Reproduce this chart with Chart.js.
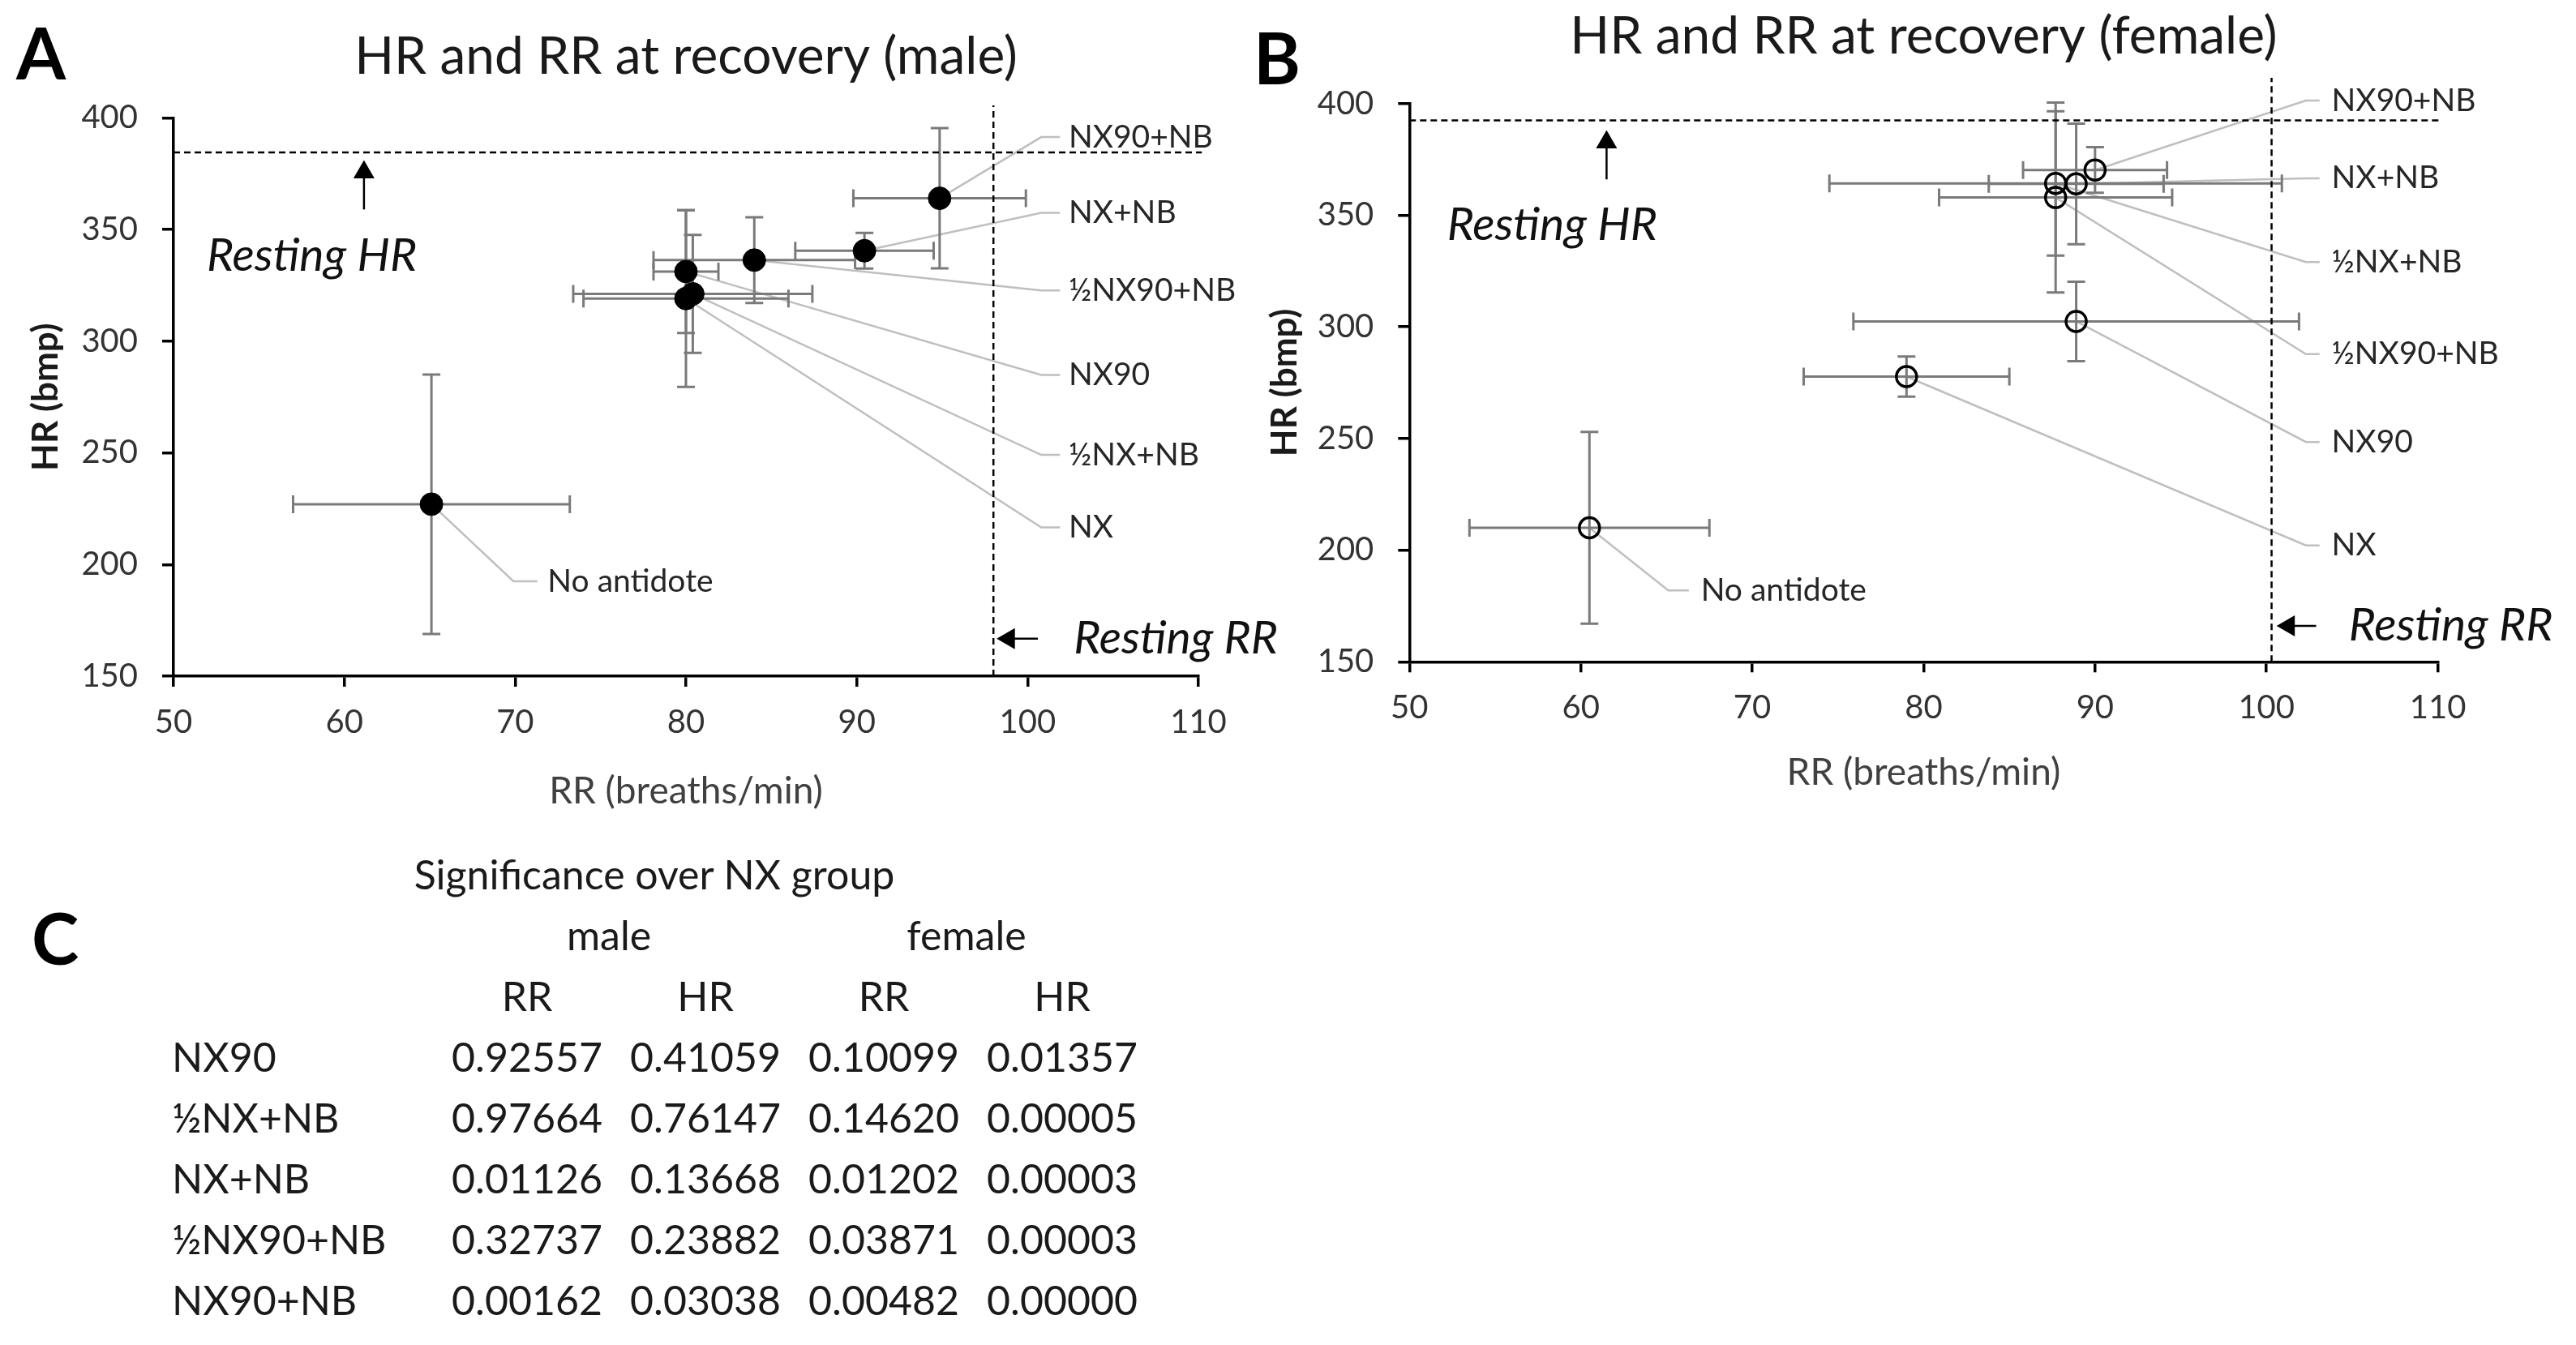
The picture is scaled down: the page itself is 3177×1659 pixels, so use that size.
<!DOCTYPE html>
<html>
<head>
<meta charset="utf-8">
<script src="https://cdn.jsdelivr.net/npm/chart.js@4.4.1/dist/chart.umd.min.js"></script>
<style>
body{margin:0;background:#fff;font-family:Lato,sans-serif;}
#wrap{position:relative;width:3177px;height:1659px;overflow:hidden;background:#fff}
canvas{position:absolute;left:0;top:0}
.letter{position:absolute;font-weight:bold;font-size:88px;line-height:1;color:#000}
table{position:absolute;left:212px;top:1040px;border-collapse:collapse;table-layout:fixed;font-size:50px;color:#1a1a1a}
td{height:75px;padding:0;white-space:nowrap;text-align:center;vertical-align:middle}
td.lab{text-align:left}
</style>
</head>
<body>
<div id="wrap">
  <canvas id="chartA" width="3177" height="1040"></canvas>
  <canvas id="chartB" width="3177" height="1040"></canvas>
  <div class="letter" style="left:20px;top:20px">A</div>
  <div class="letter" style="left:1546px;top:26px">B</div>
  <div class="letter" style="left:39px;top:1112px">C</div>
  <table id="sigTable"></table>
</div>
<script>
// groups, same order in both panels
const groups = ['No antidote', 'NX', 'NX90', '½NX+NB', 'NX+NB', '½NX90+NB', 'NX90+NB'];

// male means and SD
const maleRR = [65.1, 80.0, 80.0, 80.4, 90.45, 84.0, 94.85];
const maleHR = [227, 319.1, 331.2, 321.2, 340.5, 336.3, 364];
const maleRRsd = [8.1, 6.0, 1.9, 7.0, 4.05, 5.9, 5.05];
const maleHRsd = [58.1, 39.6, 27.5, 26.4, 8.0, 19.2, 31.4];

// female means and SD
const femRR = [60.5, 79.0, 88.9, 87.7, 88.9, 87.7, 90.0];
const femHR = [210, 277.7, 302.4, 364.2, 364, 357.9, 370.2];
const femRRsd = [7.0, 6.0, 13.0, 13.2, 5.1, 6.8, 4.2];
const femHRsd = [42.9, 9.0, 17.8, 32.3, 27.0, 42.5, 10.2];

// resting reference values
const maleRestHR = 384.5, maleRestRR = 98.0;
const femRestHR = 392.4, femRestRR = 100.3;

// significance table
const tableRows = ['NX90', '½NX+NB', 'NX+NB', '½NX90+NB', 'NX90+NB'];
const maleRRp = ['0.92557', '0.97664', '0.01126', '0.32737', '0.00162'];
const maleHRp = ['0.41059', '0.76147', '0.13668', '0.23882', '0.03038'];
const femRRp = ['0.10099', '0.14620', '0.01202', '0.03871', '0.00482'];
const femHRp = ['0.01357', '0.00005', '0.00003', '0.00003', '0.00000'];

// where the callout labels sit (axis units)
const maleLabelHR = [192.5, 216.6, 284.9, 249.1, 357.5, 322.7, 391.4];
const maleElbowRR = [69.9, 100.8, 100.8, 100.8, 100.8, 100.8, 100.8];
const maleLineEndRR = [71.3, 101.9, 101.9, 101.9, 101.9, 101.9, 101.9];
const maleTextRR = [71.9, 102.4, 102.4, 102.4, 102.4, 102.4, 102.4];
const femLabelHR = [182, 202.1, 248.4, 329.0, 366.5, 287.8, 401.3];
const femElbowRR = [65.1, 102.3, 102.3, 102.3, 102.3, 102.3, 102.3];
const femLineEndRR = [66.3, 103.1, 103.1, 103.1, 103.1, 103.1, 103.1];
const femTextRR = [67.0, 103.8, 103.8, 103.8, 103.8, 103.8, 103.8];

Chart.defaults.font.family = 'Lato';
Chart.defaults.color = '#333';

function overlay(o){
  return {
    id: 'overlay',
    beforeDatasetsDraw(chart){
      const ctx = chart.ctx, x = chart.scales.x, y = chart.scales.y
      ctx.save()
      // leader lines
      ctx.strokeStyle = '#bfbfbf'
      ctx.lineWidth = 2.5
      o.rr.forEach((v, i)=>{
        ctx.beginPath()
        ctx.moveTo(x.getPixelForValue(v), y.getPixelForValue(o.hr[i]))
        ctx.lineTo(x.getPixelForValue(o.elbow[i]), y.getPixelForValue(o.labelHR[i]))
        ctx.lineTo(x.getPixelForValue(o.lineEnd[i]), y.getPixelForValue(o.labelHR[i]))
        ctx.stroke()
      })
      // error bars
      ctx.strokeStyle = '#7a7a7a'
      ctx.lineWidth = 3
      const cap = 11
      o.rr.forEach((v, i)=>{
        const px = x.getPixelForValue(v), py = y.getPixelForValue(o.hr[i])
        const x1 = x.getPixelForValue(v - o.rrSd[i]), x2 = x.getPixelForValue(v + o.rrSd[i])
        const y1 = y.getPixelForValue(o.hr[i] - o.hrSd[i]), y2 = y.getPixelForValue(o.hr[i] + o.hrSd[i])
        ctx.beginPath()
        ctx.moveTo(x1, py); ctx.lineTo(x2, py)
        ctx.moveTo(x1, py - cap); ctx.lineTo(x1, py + cap)
        ctx.moveTo(x2, py - cap); ctx.lineTo(x2, py + cap)
        ctx.moveTo(px, y1); ctx.lineTo(px, y2)
        ctx.moveTo(px - cap, y1); ctx.lineTo(px + cap, y1)
        ctx.moveTo(px - cap, y2); ctx.lineTo(px + cap, y2)
        ctx.stroke()
      })
      ctx.restore()
    },
    afterDatasetsDraw(chart){
      const ctx = chart.ctx, x = chart.scales.x, y = chart.scales.y
      ctx.save()
      ctx.textBaseline = 'middle'
      ctx.textAlign = 'left'
      ctx.fillStyle = '#262626'
      ctx.font = '39px Lato'
      groups.forEach((g, i)=>{
        ctx.fillText(g, x.getPixelForValue(o.textRR[i]), y.getPixelForValue(o.labelHR[i]))
      })
      ctx.fillStyle = '#111'
      ctx.font = 'italic 57px Lato'
      ctx.fillText('Resting HR', x.getPixelForValue(o.hrText[0]), y.getPixelForValue(o.hrText[1]))
      ctx.fillText('Resting RR', x.getPixelForValue(o.rrText[0]), y.getPixelForValue(o.rrText[1]))
      ctx.restore()
    }
  }
}

function panel(id, o){
  const dashed = {type: 'line', borderColor: '#000', borderWidth: 2.5, borderDash: [8, 5], pointRadius: 0, clip: false}
  const arrow = {type: 'line', borderColor: '#000', backgroundColor: '#000', borderWidth: 2.5,
                 pointRadius: [0, 15], pointStyle: 'triangle', pointBorderWidth: 0, clip: false}
  return new Chart(document.getElementById(id), {
    type: 'scatter',
    data: {
      datasets: [
        Object.assign({label: 'Resting HR', data: [{x: 50, y: o.restHR}, {x: o.hrLineEnd, y: o.restHR}]}, dashed),
        Object.assign({label: 'Resting RR', data: [{x: o.restRR, y: 150}, {x: o.restRR, y: o.rrLineTop}]}, dashed),
        Object.assign({label: 'arrow HR', data: o.arrowHR, pointRotation: 0}, arrow),
        Object.assign({label: 'arrow RR', data: o.arrowRR, pointRotation: -90}, arrow),
        {
          label: o.name,
          data: o.rr.map((v, i)=>({x: v, y: o.hr[i]})),
          pointRadius: o.radius,
          pointBackgroundColor: o.fill,
          pointBorderColor: '#000',
          pointBorderWidth: o.bw
        }
      ]
    },
    options: {
      responsive: false,
      animation: false,
      events: [],
      layout: {padding: {left: o.padLeft, right: o.padRight, top: 0, bottom: 0}},
      plugins: {
        legend: {display: false},
        tooltip: {enabled: false},
        title: {
          display: true, text: o.title, fullSize: false, color: '#1a1a1a',
          font: {size: 64, weight: 'normal'}, padding: {top: o.titleTop, bottom: o.titleBottom}
        }
      },
      scales: {
        x: {
          type: 'linear', min: 50, max: 110,
          ticks: {stepSize: 10, font: {size: 40}, color: '#333', padding: 20},
          grid: {drawOnChartArea: false, drawTicks: true, tickLength: 13, color: '#000', lineWidth: 3.5},
          border: {color: '#000', width: 3.5},
          title: {display: true, text: 'RR (breaths/min)', font: {size: 46}, color: '#404040', padding: {bottom: o.xTitlePad}},
          afterFit: s=>{ s.height = o.xHeight }
        },
        y: {
          type: 'linear', min: 150, max: 400,
          ticks: {stepSize: 50, font: {size: 40}, color: '#333', padding: 30},
          grid: {drawOnChartArea: false, drawTicks: true, tickLength: 14, color: '#000', lineWidth: 3.5},
          border: {color: '#000', width: 3.5},
          title: {display: true, text: 'HR (bmp)', font: {size: 44, weight: 'bold'}, color: '#1a1a1a', padding: {top: o.yTitlePad}},
          afterFit: s=>{ s.width = 204 }
        }
      }
    },
    plugins: [overlay(o)]
  })
}

panel('chartA', {
  name: 'male', title: 'HR and RR at recovery (male)',
  rr: maleRR, hr: maleHR, rrSd: maleRRsd, hrSd: maleHRsd,
  labelHR: maleLabelHR, elbow: maleElbowRR, lineEnd: maleLineEndRR, textRR: maleTextRR,
  restHR: maleRestHR, restRR: maleRestRR, hrLineEnd: 110.2, rrLineTop: 405.6,
  arrowHR: [{x: 61.15, y: 359}, {x: 61.15, y: 375.6}],
  arrowRR: [{x: 100.6, y: 166.8}, {x: 98.9, y: 166.8}],
  hrText: [51.95, 338.2], rrText: [102.7, 166.8],
  radius: 14, fill: '#000', bw: 1,
  padLeft: 10, padRight: 1699, titleTop: 31.6, titleBottom: 37,
  xHeight: 206, xTitlePad: 36.4, yTitlePad: 20.6
})

panel('chartB', {
  name: 'female', title: 'HR and RR at recovery (female)',
  rr: femRR, hr: femHR, rrSd: femRRsd, hrSd: femHRsd,
  labelHR: femLabelHR, elbow: femElbowRR, lineEnd: femLineEndRR, textRR: femTextRR,
  restHR: femRestHR, restRR: femRestRR, hrLineEnd: 110.1, rrLineTop: 411.5,
  arrowHR: [{x: 61.5, y: 366}, {x: 61.5, y: 382.6}],
  arrowRR: [{x: 102.9, y: 166.1}, {x: 101.3, y: 166.1}],
  hrText: [52.2, 345.6], rrText: [104.8, 166.2],
  radius: 12.5, fill: 'rgba(0,0,0,0)', bw: 3.5,
  padLeft: 1534.3, padRight: 170.4, titleTop: 6.6, titleBottom: 44.2,
  xHeight: 223.7, xTitlePad: 59.4, yTitlePad: 24.3
})

// table C
function buildTable(){
  const t = document.getElementById('sigTable')
  let html = '<colgroup><col style="width:328px">' + '<col style="width:220px">'.repeat(4) + '</colgroup>'
  html += '<tr><td colspan="5" style="padding-right:18px">Significance over NX group</td></tr>'
  html += '<tr><td></td><td colspan="2" style="padding-right:18px">male</td><td colspan="2" style="padding-right:16px">female</td></tr>'
  html += '<tr><td></td><td>RR</td><td>HR</td><td>RR</td><td>HR</td></tr>'
  tableRows.forEach((r, i)=>{
    html += `<tr><td class="lab">${r}</td><td>${maleRRp[i]}</td><td>${maleHRp[i]}</td><td>${femRRp[i]}</td><td>${femHRp[i]}</td></tr>`
  })
  t.innerHTML = html
}
buildTable()
</script>
</body>
</html>
